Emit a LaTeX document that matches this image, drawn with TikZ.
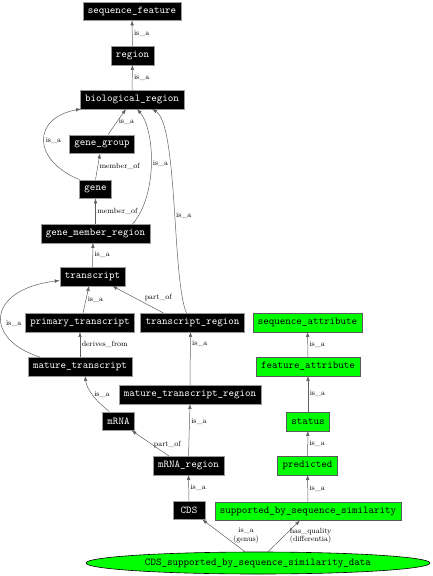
\documentclass[tikz,border=0pt]{standalone}
\usepackage{xcolor}
\usepackage{tikz}
\usetikzlibrary{arrows.meta,shapes.geometric}
\definecolor{SOGreen}{HTML}{00FF00}
\definecolor{SOEdge}{HTML}{606060}
\definecolor{SOFrame}{HTML}{9A9A9A}

\begin{document}
\begin{tikzpicture}[x=1pt,y=-1pt,
  term/.style={fill=black,draw=SOFrame,text=white,font=\ttfamily\fontsize{10.5}{12}\selectfont,inner xsep=5pt,inner ysep=0pt,minimum height=18.5pt,minimum width=32pt},
  attr/.style={term,fill=SOGreen,draw=black!65,text=black},
  rel/.style={draw=SOEdge,line width=0.5pt,-{Latex[length=5pt,width=3.6pt]}},
  lbl/.style={font=\fontsize{7.5}{8.5}\selectfont,inner sep=1.5pt,align=center}]
\path[use as bounding box] (0,0) rectangle (432,576);
\node[term] (seqfeat) at (132,11) {sequence\_feature};
\node[term] (region) at (132.5,55.5) {region};
\node[term] (bioreg) at (132,99.5) {biological\_region};
\node[term] (genegroup) at (102,144) {gene\_group};
\node[term] (gene) at (95.5,189) {gene};
\node[term] (gmr) at (95.5,233.5) {gene\_member\_region};
\node[term] (transcript) at (92.5,276.5) {transcript};
\node[term] (primary) at (80,322.5) {primary\_transcript};
\node[term] (trreg) at (192.5,322.5) {transcript\_region};
\node[term] (mature) at (80,366.5) {mature\_transcript};
\node[term] (mtr) at (190,394.5) {mature\_transcript\_region};
\node[term] (mrna) at (118.5,421) {mRNA};
\node[term] (mrnareg) at (188.5,465.5) {mRNA\_region};
\node[term] (cds) at (189,510) {CDS};
\node[attr] (seqattr) at (307.5,322.5) {sequence\_attribute};
\node[attr] (featattr) at (308,366.5) {feature\_attribute};
\node[attr] (status) at (308,421.5) {status};
\node[attr] (predicted) at (307.5,465.5) {predicted};
\node[attr] (simil) at (308,511) {supported\_by\_sequence\_similarity};
\node[ellipse,fill=SOGreen,draw=black,line width=0.6pt,inner sep=0pt,minimum width=344pt,minimum height=22pt,font=\ttfamily\fontsize{10.5}{12}\selectfont] (cdsdata) at (258,563) {CDS\_supported\_by\_sequence\_similarity\_data};

\draw[rel] (region) -- node[lbl,right]{is\_a} (seqfeat);
\draw[rel] (bioreg) -- node[lbl,right]{is\_a} (region);
\draw[rel] ([xshift=6pt]genegroup.north) -- node[lbl,right]{is\_a} ([xshift=-6pt]bioreg.south);
\draw[rel] (gene.north west) .. controls (32,160) and (32,118) .. node[lbl,right]{is\_a} ([xshift=-51pt]bioreg.south);
\draw[rel] (gene.north) -- node[lbl,right]{member\_of} ([xshift=-2pt]genegroup.south);
\draw[rel] (gmr.north) -- node[lbl,right]{member\_of} (gene.south);
\draw[rel] ([xshift=37pt]gmr.north) .. controls (158,195) and (155,130) .. node[lbl,right]{is\_a} ([xshift=5pt]bioreg.south);
\draw[rel] ([xshift=-6pt]trreg.north) .. controls (172,280) and (178,125) .. node[lbl,right,pos=0.46]{is\_a} ([xshift=20pt]bioreg.south);
\draw[rel] (transcript.north) -- node[lbl,right]{is\_a} ([xshift=-2.5pt]gmr.south);
\draw[rel] ([xshift=3pt]primary.north) -- node[lbl,right]{is\_a} ([xshift=-3.5pt]transcript.south);
\draw[rel] ([xshift=-29pt]trreg.north) -- node[lbl,above right,pos=0.4]{part\_of} ([xshift=-13pt]transcript.south east);
\draw[rel] ([xshift=12pt]mature.north west) .. controls (-15,340) and (-15,290) .. node[lbl,right,pos=0.42,xshift=3pt]{is\_a} ([yshift=-4pt]transcript.west);
\draw[rel] (mature.north) -- node[lbl,right]{derives\_from} (primary.south);
\draw[rel] (mtr.north) -- node[lbl,right,pos=0.78]{is\_a} ([xshift=-2pt]trreg.south);
\draw[rel] ([xshift=7pt]mrna.north west) .. controls (95,400) and (87,390) .. node[lbl,right]{is\_a} ([xshift=5pt]mature.south);
\draw[rel] ([xshift=-19.5pt]mrnareg.north) -- node[lbl,right,pos=0.45]{part\_of} ([xshift=13pt]mrna.south);
\draw[rel] (mrnareg.north) -- node[lbl,right,pos=0.67]{is\_a} (mtr.south);
\draw[rel] (cds.north) -- node[lbl,right]{is\_a} (mrnareg.south);
\draw[rel] (featattr) -- node[lbl,right]{is\_a} (seqattr);
\draw[rel] (status) -- node[lbl,right]{is\_a} (featattr);
\draw[rel] (predicted) -- node[lbl,right]{is\_a} (status);
\draw[rel] (simil) -- node[lbl,right]{is\_a} (predicted);
\draw[rel] ([xshift=-13pt]cdsdata.north) -- node[lbl,right,xshift=8pt]{is\_a\\(genus)} ([xshift=-3pt]cds.south east);
\draw[rel] ([xshift=10pt]cdsdata.north) -- node[lbl,right,xshift=4pt]{has\_quality\\(differentia)} ([xshift=-8pt]simil.south);
\end{tikzpicture}
\end{document}
